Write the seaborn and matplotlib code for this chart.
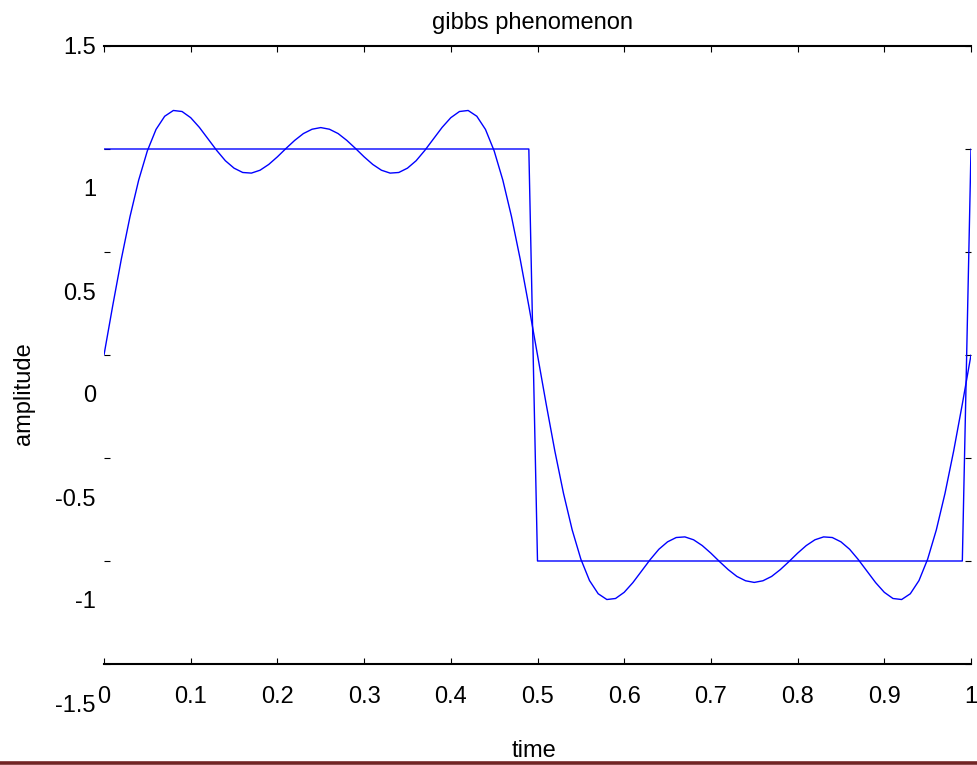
import matplotlib
matplotlib.use('Agg')
import pandas as pd
import seaborn as sns
import matplotlib.pyplot as plt
from matplotlib.transforms import offset_copy
from matplotlib.lines import Line2D

# sample times (step 0.01)
time = [0.00, 0.01, 0.02, 0.03, 0.04, 0.05, 0.06, 0.07, 0.08, 0.09,
        0.10, 0.11, 0.12, 0.13, 0.14, 0.15, 0.16, 0.17, 0.18, 0.19,
        0.20, 0.21, 0.22, 0.23, 0.24, 0.25, 0.26, 0.27, 0.28, 0.29,
        0.30, 0.31, 0.32, 0.33, 0.34, 0.35, 0.36, 0.37, 0.38, 0.39,
        0.40, 0.41, 0.42, 0.43, 0.44, 0.45, 0.46, 0.47, 0.48, 0.49,
        0.50, 0.51, 0.52, 0.53, 0.54, 0.55, 0.56, 0.57, 0.58, 0.59,
        0.60, 0.61, 0.62, 0.63, 0.64, 0.65, 0.66, 0.67, 0.68, 0.69,
        0.70, 0.71, 0.72, 0.73, 0.74, 0.75, 0.76, 0.77, 0.78, 0.79,
        0.80, 0.81, 0.82, 0.83, 0.84, 0.85, 0.86, 0.87, 0.88, 0.89,
        0.90, 0.91, 0.92, 0.93, 0.94, 0.95, 0.96, 0.97, 0.98, 0.99,
        1.00]

square = [1, 1, 1, 1, 1, 1, 1, 1, 1, 1,
          1, 1, 1, 1, 1, 1, 1, 1, 1, 1,
          1, 1, 1, 1, 1, 1, 1, 1, 1, 1,
          1, 1, 1, 1, 1, 1, 1, 1, 1, 1,
          1, 1, 1, 1, 1, 1, 1, 1, 1, 1,
          -1, -1, -1, -1, -1, -1, -1, -1, -1, -1,
          -1, -1, -1, -1, -1, -1, -1, -1, -1, -1,
          -1, -1, -1, -1, -1, -1, -1, -1, -1, -1,
          -1, -1, -1, -1, -1, -1, -1, -1, -1, -1,
          -1, -1, -1, -1, -1, -1, -1, -1, -1, -1,
          1]

partial_sum = [0.000, 0.238, 0.466, 0.672, 0.849, 0.991, 1.095, 1.159, 1.187, 1.182,
               1.152, 1.105, 1.049, 0.993, 0.943, 0.907, 0.886, 0.883, 0.897, 0.925,
               0.962, 1.003, 1.042, 1.075, 1.096, 1.104, 1.096, 1.075, 1.042, 1.003,
               0.962, 0.925, 0.897, 0.883, 0.886, 0.907, 0.943, 0.993, 1.049, 1.105,
               1.152, 1.182, 1.187, 1.159, 1.095, 0.991, 0.849, 0.672, 0.466, 0.238,
               0.000, -0.238, -0.466, -0.672, -0.849, -0.991, -1.095, -1.159, -1.187, -1.182,
               -1.152, -1.105, -1.049, -0.993, -0.943, -0.907, -0.886, -0.883, -0.897, -0.925,
               -0.962, -1.003, -1.042, -1.075, -1.096, -1.104, -1.096, -1.075, -1.042, -1.003,
               -0.962, -0.925, -0.897, -0.883, -0.886, -0.907, -0.943, -0.993, -1.049, -1.105,
               -1.152, -1.182, -1.187, -1.159, -1.095, -0.991, -0.849, -0.672, -0.466, -0.238,
               0.000]

x_ticks = [0, 0.1, 0.2, 0.3, 0.4, 0.5, 0.6, 0.7, 0.8, 0.9, 1]
x_tick_labels = ['0', '0.1', '0.2', '0.3', '0.4', '0.5', '0.6', '0.7', '0.8', '0.9', '1']
y_ticks = [1.5, 1, 0.5, 0, -0.5, -1, -1.5]
y_tick_labels = ['1.5', '1', '0.5', '0', '-0.5', '-1', '-1.5']

df = pd.DataFrame({'time': time, 'square': square, 'partial': partial_sum})

sns.set_style('white')
plt.rcParams['font.family'] = ['Liberation Sans', 'DejaVu Sans']
plt.rcParams['text.color'] = 'black'

fig = plt.figure(figsize=(9.77, 7.65), dpi=100)
ax = fig.add_axes([104 / 977, 101 / 765, 867 / 977, 618 / 765])

sns.lineplot(data=df, x='time', y='square', color='#0000ff', lw=1.0,
             sort=False, estimator=None, ax=ax)
sns.lineplot(data=df, x='time', y='partial', color='#0000ff', lw=1.0,
             sort=False, estimator=None, ax=ax)

ax.set_xlim(0, 1)
ax.set_ylim(-1.5, 1.5)
ax.set_xlabel('')
ax.set_ylabel('')

for side in ['left', 'right']:
    ax.spines[side].set_visible(False)
for side in ['top', 'bottom']:
    ax.spines[side].set_linewidth(1.5)
    ax.spines[side].set_color('black')

ax.set_xticks(x_ticks, x_tick_labels)
ax.set_yticks(y_ticks, [''] * len(y_ticks))
ax.tick_params(axis='x', direction='in', length=4, width=0.8, top=True,
               bottom=True, pad=16, labelsize=17, colors='black')
ax.tick_params(axis='y', direction='in', length=4, width=0.8, left=True,
               right=True, colors='black')

# y tick labels sit lower than their ticks in the original (except the top one)
for val, lab in zip(y_ticks, y_tick_labels):
    shift = -2 if val == max(y_ticks) else -41.5
    tr = offset_copy(ax.get_yaxis_transform(), fig=fig, x=-8, y=shift, units='dots')
    ax.text(0, val, lab, transform=tr, ha='right', va='center', fontsize=17,
            color='black')

fig.text(533 / 977, 1 - 23 / 765, 'gibbs phenomenon', ha='center', va='center',
         fontsize=17, color='black')
fig.text(534 / 977, 1 - 740 / 765, 'time', ha='center', va='top', fontsize=17,
         color='black')
fig.text(24 / 977, 1 - 394 / 765, 'amplitude', ha='center', va='center',
         rotation=90, fontsize=17, color='black')

fig.add_artist(Line2D([0, 1], [1 - 762.5 / 765] * 2, transform=fig.transFigure,
                      color='#722424', lw=2.6))

plt.savefig('out.png', dpi=100)
